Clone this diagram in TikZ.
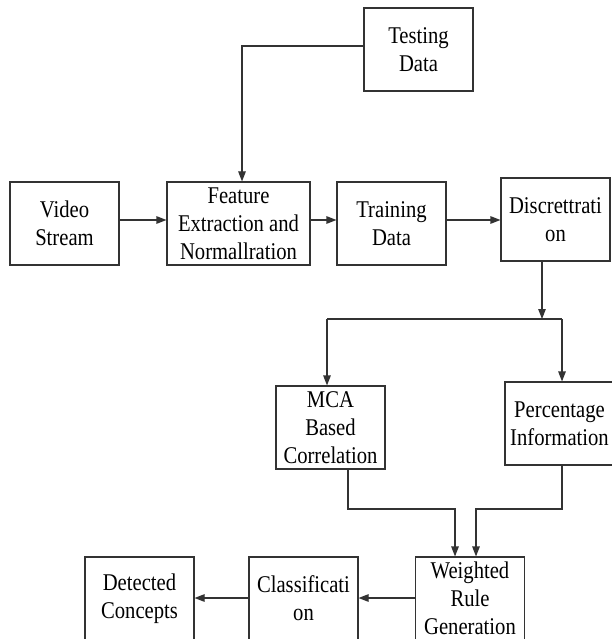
\documentclass[tikz,border=0pt]{standalone}
\usepackage{fontspec}
\setmainfont{Liberation Serif}[FakeStretch=0.86]
\usetikzlibrary{arrows.meta,calc}
\definecolor{linegray}{HTML}{333333}
\begin{document}
\begin{tikzpicture}[x=1pt,y=-1pt,
  blockbox/.style={draw=linegray,line width=1.1pt,rectangle,minimum width=109pt,minimum height=83pt,
    inner sep=0pt,align=center,font=\fontsize{24}{28}\selectfont},
  link/.style={draw=linegray,line width=1.1pt},
  arr/.style={link,-{Triangle[length=10pt,width=7.5pt]}}]
\useasboundingbox (0,0) rectangle (611,639);
% blocks
\node[blockbox] (test) at (418.5,49.5) {Testing\\Data};
\node[blockbox] (video) at (64.5,223.5) {Video\\Stream};
\node[blockbox,minimum width=143pt] (feat) at (238.5,223.5) {Feature\\Extraction and\\Normallration};
\node[blockbox] (train) at (391.5,223.5) {Training\\Data};
\node[blockbox] (disc) at (555.5,219.5) {Discrettrati\\on};
\node[blockbox] (mca) at (330.5,427.5) {MCA\\Based\\Correlation};
\node[blockbox] (perc) at (559.5,423.5) {Percentage\\Information};
\node[blockbox] (wrg) at (470,598.5) {Weighted\\Rule\\Generation};
\node[blockbox] (cls) at (303.5,598.5) {Classificati\\on};
\node[blockbox] (det) at (139.5,598.5) {Detected\\Concepts};
% junction points
\coordinate (split) at (542,319);
\coordinate (splitL) at (327,319);
\coordinate (splitR) at (562,319);
\coordinate (mergeY) at (0,509);
% connectors
\draw[arr] ([yshift=3.5pt]test.west) -| ([xshift=3.5pt]feat.north);
\draw[arr] ([yshift=3.5pt]video.east) -- ([yshift=3.5pt]feat.west);
\draw[arr] ([yshift=3.5pt]feat.east) -- ([yshift=3.5pt]train.west);
\draw[arr] ([yshift=3.5pt]train.east) -- ([yshift=-0.5pt]disc.west);
\draw[arr] (disc.south -| split) -- (split);
\draw[link] (splitL) -- (splitR);
\draw[arr] (splitL) -- (splitL |- mca.north);
\draw[arr] (splitR) -- (splitR |- perc.north);
\draw[arr] (348,0 |- mca.south) -- (348,509) -| (455,0 |- wrg.north);
\draw[arr] (562,0 |- perc.south) -- (562,509) -| (476,0 |- wrg.north);
\draw[arr] ([yshift=0.5pt]wrg.west) -- ([yshift=0.5pt]cls.east);
\draw[arr] ([yshift=0.5pt]cls.west) -- ([yshift=0.5pt]det.east);
\end{tikzpicture}
\end{document}
